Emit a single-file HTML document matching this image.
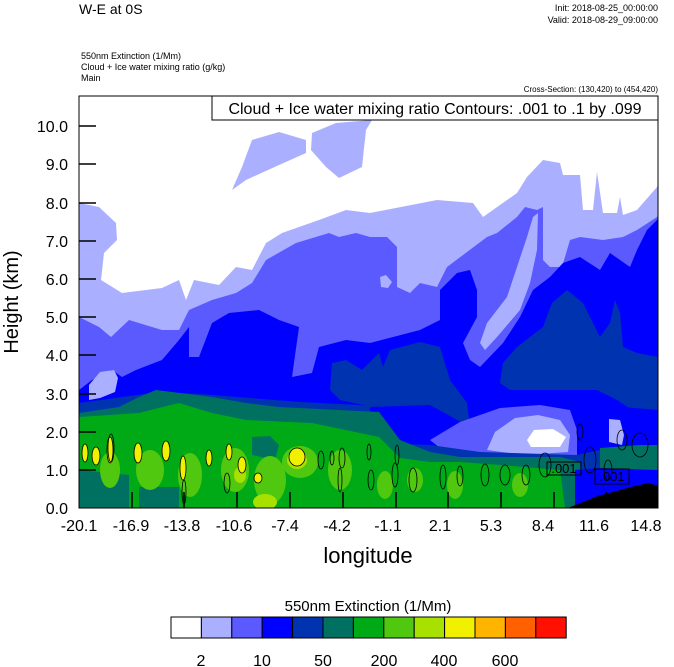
<!DOCTYPE html>
<html><head><style>body{margin:0;background:#fff}svg{display:block}text{font-family:"Liberation Sans",sans-serif}</style></head><body>
<svg width="674" height="667" viewBox="0 0 674 667" xmlns="http://www.w3.org/2000/svg">
<text x="79" y="14" font-size="14">W-E at 0S</text>
<text x="658" y="11" font-size="9" text-anchor="end">Init: 2018-08-25_00:00:00</text>
<text x="658" y="23" font-size="9" text-anchor="end">Valid: 2018-08-29_09:00:00</text>
<text x="81" y="59" font-size="9">550nm Extinction   (1/Mm)</text>
<text x="81" y="70" font-size="9">Cloud + Ice water mixing ratio   (g/kg)</text>
<text x="81" y="81" font-size="9">Main</text>
<text x="658" y="92" font-size="8" text-anchor="end">Cross-Section: (130,420) to (454,420)</text>
<defs><clipPath id="c"><rect x="79" y="96" width="579" height="412"/></clipPath></defs>
<g clip-path="url(#c)">
<rect x="79" y="96" width="579" height="412" fill="#fff"/>
<path fill="#aab0ff" d="M79 203 L99 207 L116 223 L117 240 L104 253 L101 280 L122 293 L162 288 L179 280 L186 300 L194 280 L219 285 L236 267 L252 270 L266 243 L282 233 L319 220 L346 210 L370 213 L437 200 L473 203 L483 217 L517 193 L527 177 L543 160 L560 163 L563 175 L580 175 L583 210 L593 210 L597 172 L603 213 L617 213 L620 197 L623 215 L637 210 L657 187 L658 185 L658 508 L79 508Z"/>
<path fill="#aab0ff" d="M232 190 L242 167 L252 140 L279 132 L306 140 L306 153 L279 165 L246 180Z"/>
<path fill="#aab0ff" d="M311 150 L312 133 L336 123 L372 120 L366 130 L362 167 L339 178 L326 167Z"/>
<path fill="#5a5aff" d="M79 317 L99 327 L111 337 L129 320 L162 330 L179 330 L189 310 L212 300 L236 293 L252 283 L266 260 L296 243 L329 233 L339 237 L356 233 L370 237 L387 237 L397 247 L397 287 L410 293 L420 283 L437 287 L447 267 L487 237 L497 233 L517 217 L525 207 L537 210 L543 207 L543 260 L550 267 L562 267 L570 240 L580 237 L603 240 L623 237 L637 230 L657 217 L658 215 L658 508 L79 508Z"/>
<path fill="#aab0ff" d="M533 217 L527 237 L517 267 L507 297 L487 323 L480 343 L485 350 L497 337 L520 310 L530 283 L537 250 L538 213Z"/>
<path fill="#aab0ff" d="M380 277 L386 275 L392 282 L388 288 L381 287Z"/>
<path fill="#0000ff" d="M79 390 L92 380 L112 370 L122 377 L136 370 L162 360 L179 340 L189 327 L189 357 L199 357 L212 323 L229 313 L259 310 L279 320 L299 327 L292 377 L312 373 L319 347 L346 340 L370 343 L420 330 L440 320 L440 290 L457 273 L470 270 L477 290 L477 317 L463 343 L470 360 L480 367 L503 343 L520 317 L533 290 L550 277 L563 263 L580 257 L600 270 L610 253 L630 267 L637 250 L647 230 L657 220 L658 218 L658 508 L79 508Z"/>
<path fill="#aab0ff" d="M89 385 L100 372 L114 370 L118 378 L115 392 L100 398 L89 400Z"/>
<path fill="#0033b0" d="M332 363 L346 360 L362 370 L379 353 L383 367 L390 350 L420 342 L440 347 L450 380 L467 403 L470 427 L450 427 L420 420 L387 410 L340 400 L330 390Z"/>
<path fill="#0033b0" d="M500 383 L503 363 L517 347 L543 327 L552 303 L567 290 L583 303 L600 337 L610 323 L615 300 L620 313 L623 347 L637 353 L658 357 L658 410 L637 413 L617 400 L597 390 L570 390 L537 390 L510 390Z"/>
<path fill="#0033b0" d="M79 403 L115 398 L160 392 L200 394 L250 398 L300 402 L379 406 L379 508 L79 508Z"/>
<path fill="#0000ff" d="M370 407 L430 405 L470 427 L500 408 L560 402 L600 405 L658 410 L658 508 L370 508Z"/>
<path fill="#5a5aff" d="M430 440 L460 422 L500 408 L540 405 L570 410 L577 430 L577 457 L500 455 L440 448Z"/>
<path fill="#aab0ff" d="M487 450 L495 432 L515 418 L538 415 L560 420 L570 435 L568 452 L523 455Z"/>
<path fill="#ffffff" d="M527 440 L534 430 L553 429 L566 437 L560 447 L531 447Z"/>
<path fill="#aab0ff" d="M609 419 L620 420 L624 435 L622 445 L609 442Z"/>
<path fill="#0033b0" d="M370 443 L430 445 L480 452 L577 455 L600 450 L658 450 L658 508 L370 508Z"/>
<path fill="#007060" d="M79 413 L119 407 L139 397 L156 390 L212 397 L246 403 L279 407 L379 412 L400 440 L430 452 L460 457 L560 457 L580 462 L582 508 L79 508Z"/>
<path fill="#007060" d="M600 448 L640 445 L658 445 L658 470 L600 470Z"/>
<path fill="#00aa16" d="M79 417 L139 413 L179 403 L212 413 L246 420 L312 423 L379 437 L400 458 L430 462 L460 462 L500 465 L560 470 L565 508 L79 508Z"/>
<path fill="#007060" d="M79 470 L100 472 L129 475 L129 508 L79 508Z"/>
<path fill="#007060" d="M139 487 L179 487 L179 508 L139 508Z"/>
<path fill="#007060" d="M252 437 L270 436 L279 445 L275 460 L252 455Z"/>
<path fill="#0000ff" d="M575 470 L600 468 L658 470 L658 508 L575 508Z"/>
<g fill="#50c810">
<ellipse cx="150" cy="470" rx="14" ry="20"/><ellipse cx="190" cy="475" rx="12" ry="22"/><ellipse cx="235" cy="470" rx="14" ry="22"/>
<ellipse cx="270" cy="480" rx="16" ry="24"/><ellipse cx="300" cy="462" rx="18" ry="16"/><ellipse cx="340" cy="470" rx="12" ry="20"/>
<ellipse cx="110" cy="470" rx="10" ry="18"/><ellipse cx="385" cy="485" rx="8" ry="14"/><ellipse cx="455" cy="485" rx="8" ry="14"/>
<ellipse cx="520" cy="485" rx="8" ry="12"/><ellipse cx="415" cy="480" rx="8" ry="12"/>
</g>
<g fill="#a8e000"><ellipse cx="265" cy="502" rx="12" ry="8"/><ellipse cx="240" cy="475" rx="6" ry="8"/><ellipse cx="297" cy="460" rx="10" ry="9"/></g>
<path fill="#000" d="M568 508 L598 496 L635 486 L649 483 L658 486 L658 508Z"/>
<g fill="#f0f000" stroke="#000" stroke-width="0.8">
<ellipse cx="85" cy="453" rx="3" ry="9"/><ellipse cx="96" cy="456" rx="4" ry="9"/><ellipse cx="110" cy="450" rx="3" ry="13"/><ellipse cx="138" cy="453" rx="4" ry="10"/>
<ellipse cx="166" cy="451" rx="4" ry="10"/><ellipse cx="183" cy="468" rx="3" ry="12"/><ellipse cx="209" cy="458" rx="3" ry="8"/><ellipse cx="229" cy="452" rx="3" ry="8"/>
<ellipse cx="242" cy="465" rx="4" ry="8"/><ellipse cx="258" cy="478" rx="4" ry="5"/><ellipse cx="297" cy="457" rx="8" ry="9"/></g>
<g fill="none" stroke="#000" stroke-width="0.8">
<ellipse cx="111" cy="448" rx="3" ry="14"/><ellipse cx="184" cy="492" rx="2" ry="12"/><ellipse cx="227" cy="483" rx="3" ry="10"/>
<ellipse cx="321" cy="460" rx="3" ry="9"/><ellipse cx="332" cy="458" rx="2" ry="7"/><ellipse cx="342" cy="458" rx="3" ry="10"/><ellipse cx="340" cy="480" rx="2" ry="12"/>
<ellipse cx="369" cy="452" rx="2" ry="8"/><ellipse cx="371" cy="480" rx="3" ry="10"/><ellipse cx="395" cy="475" rx="3" ry="12"/>
<ellipse cx="397" cy="455" rx="2" ry="10"/><ellipse cx="413" cy="480" rx="4" ry="12"/><ellipse cx="443" cy="477" rx="3" ry="12"/><ellipse cx="460" cy="476" rx="3" ry="10"/>
<ellipse cx="485" cy="475" rx="4" ry="11"/><ellipse cx="505" cy="475" rx="5" ry="10"/><ellipse cx="526" cy="475" rx="4" ry="10"/><ellipse cx="545" cy="465" rx="6" ry="12"/>
<ellipse cx="580" cy="432" rx="3" ry="8"/><ellipse cx="590" cy="460" rx="6" ry="13"/><ellipse cx="608" cy="470" rx="4" ry="10"/><ellipse cx="640" cy="445" rx="8" ry="12"/><ellipse cx="622" cy="440" rx="5" ry="10"/>
</g>
<rect x="547" y="462" width="34" height="13" fill="none" stroke="#000"/>
<text x="564" y="473" font-size="13" text-anchor="middle">.001</text>
<rect x="595" y="469" width="34" height="15" fill="none" stroke="#000"/>
<text x="612" y="481" font-size="13" text-anchor="middle">.001</text>
</g>
<rect x="79" y="96" width="579" height="412" fill="none" stroke="#000" stroke-width="1"/>
<rect x="212" y="96" width="446" height="24" fill="#fff" stroke="#000"/>
<text x="435" y="114" font-size="16" text-anchor="middle">Cloud + Ice water mixing ratio Contours: .001 to .1 by .099</text>
<g stroke="#000" stroke-width="1.5">
<line x1="79" y1="470" x2="96" y2="470"/><line x1="79" y1="432" x2="96" y2="432"/><line x1="79" y1="394" x2="96" y2="394"/><line x1="79" y1="355" x2="96" y2="355"/><line x1="79" y1="317" x2="96" y2="317"/><line x1="79" y1="279" x2="96" y2="279"/><line x1="79" y1="241" x2="96" y2="241"/><line x1="79" y1="203" x2="96" y2="203"/><line x1="79" y1="164" x2="96" y2="164"/><line x1="79" y1="126" x2="96" y2="126"/>
<line x1="132" y1="508" x2="132" y2="492"/><line x1="184" y1="508" x2="184" y2="492"/><line x1="237" y1="508" x2="237" y2="492"/><line x1="290" y1="508" x2="290" y2="492"/><line x1="343" y1="508" x2="343" y2="492"/><line x1="396" y1="508" x2="396" y2="492"/><line x1="448" y1="508" x2="448" y2="492"/><line x1="501" y1="508" x2="501" y2="492"/><line x1="554" y1="508" x2="554" y2="492"/><line x1="606" y1="508" x2="606" y2="492"/>
</g>
<g font-size="16" text-anchor="end">
<text x="68" y="514">0.0</text><text x="68" y="476">1.0</text><text x="68" y="438">2.0</text><text x="68" y="400">3.0</text><text x="68" y="361">4.0</text><text x="68" y="323">5.0</text><text x="68" y="285">6.0</text><text x="68" y="247">7.0</text><text x="68" y="209">8.0</text><text x="68" y="170">9.0</text><text x="68" y="132">10.0</text>
</g>
<g font-size="16" text-anchor="middle">
<text x="79" y="531">-20.1</text><text x="131" y="531">-16.9</text><text x="182" y="531">-13.8</text><text x="234" y="531">-10.6</text><text x="285" y="531">-7.4</text><text x="337" y="531">-4.2</text><text x="388" y="531">-1.1</text><text x="440" y="531">2.1</text><text x="491" y="531">5.3</text><text x="543" y="531">8.4</text><text x="594" y="531">11.6</text><text x="646" y="531">14.8</text>
</g>
<text x="368" y="563" font-size="22" text-anchor="middle">longitude</text>
<text transform="translate(18,302) rotate(-90)" font-size="20" text-anchor="middle">Height (km)</text>
<text x="368" y="611" font-size="15" text-anchor="middle">550nm Extinction  (1/Mm)</text>
<g stroke="#000" stroke-width="1">
<rect x="171" y="617" width="30.4" height="21" fill="#ffffff"/>
<rect x="201.4" y="617" width="30.4" height="21" fill="#aab0ff"/>
<rect x="231.8" y="617" width="30.4" height="21" fill="#5a5aff"/>
<rect x="262.2" y="617" width="30.4" height="21" fill="#0000ff"/>
<rect x="292.6" y="617" width="30.4" height="21" fill="#0033b0"/>
<rect x="323" y="617" width="30.4" height="21" fill="#007060"/>
<rect x="353.4" y="617" width="30.4" height="21" fill="#00aa16"/>
<rect x="383.8" y="617" width="30.4" height="21" fill="#50c810"/>
<rect x="414.2" y="617" width="30.4" height="21" fill="#a8e000"/>
<rect x="444.6" y="617" width="30.4" height="21" fill="#f0f000"/>
<rect x="475" y="617" width="30.4" height="21" fill="#ffb400"/>
<rect x="505.4" y="617" width="30.4" height="21" fill="#ff6000"/>
<rect x="535.8" y="617" width="30.4" height="21" fill="#ff1000"/>
</g>
<g font-size="16" text-anchor="middle">
<text x="201" y="666">2</text><text x="262" y="666">10</text><text x="323" y="666">50</text><text x="384" y="666">200</text><text x="444" y="666">400</text><text x="505" y="666">600</text>
</g>
</svg>
</body></html>
